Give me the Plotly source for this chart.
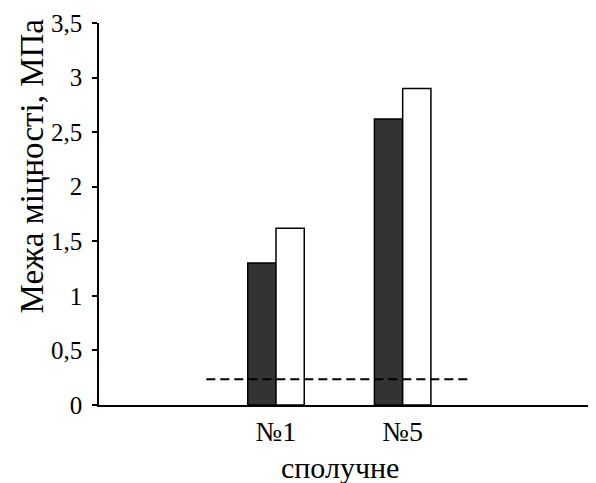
import plotly.graph_objects as go

categories = ["№1", "№5"]
cat_pos = [1, 2]
series_dark = [1.30, 2.62]
series_white = [1.62, 2.90]
limit_x = [0.45, 2.52]
limit_y = [0.235, 0.235]
y_ticks = [0, 0.5, 1, 1.5, 2, 2.5, 3, 3.5]
y_ticklabels = ["0", "0,5", "1", "1,5", "2", "2,5", "3", "3,5"]
x_title = "сполучне"
y_title = "Межа міцності, МПа"

FONT = "Liberation Serif, DejaVu Serif"
bw = 0.223

fig = go.Figure()
fig.add_trace(go.Bar(x=cat_pos, y=series_dark, width=bw, offset=-bw,
                     marker=dict(color="#333333", line=dict(color="black", width=1.5)),
                     showlegend=False))
fig.add_trace(go.Bar(x=cat_pos, y=series_white, width=bw, offset=0,
                     marker=dict(color="white", line=dict(color="black", width=1.5)),
                     showlegend=False))
fig.add_trace(go.Scatter(x=limit_x, y=limit_y, mode="lines",
                         line=dict(color="black", width=2, dash="9px,5px"),
                         showlegend=False))

# page body has an 8px margin: compensate (plot area: page x 99..596, y 23..405)
W, H = 588, 475
L, T, B = 91, 15, 78
PW, PH = W - L, H - T - B

def px_to_paper_x(page_x):
    return (page_x - 8 - L) / PW

def px_to_paper_y(page_y):
    return (H - B - (page_y - 8)) / PH

fig.update_layout(
    width=W, height=H,
    margin=dict(l=L, r=0, t=T, b=B),
    paper_bgcolor="white", plot_bgcolor="white",
    font=dict(family=FONT, color="black", size=24),
    xaxis=dict(range=[-0.397, 3.526], tickmode="array", tickvals=cat_pos,
               ticktext=categories, showline=True, linecolor="black", linewidth=2,
               ticks="", showgrid=False, zeroline=False, automargin=False,
               tickfont=dict(family=FONT, size=28), ticklabelstandoff=0),
    yaxis=dict(range=[0, 3.5], tickmode="array", tickvals=y_ticks,
               ticktext=y_ticklabels, showline=True, linecolor="black", linewidth=1.5,
               ticks="outside", ticklen=5, tickwidth=1.5, tickcolor="black",
               showgrid=False, zeroline=False, automargin=False,
               tickfont=dict(family=FONT, size=25), ticklabelstandoff=5),
    annotations=[
        dict(text=x_title, xref="paper", yref="paper",
             x=px_to_paper_x(340), y=px_to_paper_y(467),
             xanchor="center", yanchor="middle", showarrow=False,
             font=dict(family=FONT, size=30, color="black")),
        dict(text=y_title, xref="paper", yref="paper", textangle=-90,
             x=px_to_paper_x(31.5), y=px_to_paper_y(166),
             xanchor="center", yanchor="middle", showarrow=False,
             font=dict(family=FONT, size=33, color="black")),
    ],
)

fig.write_html("out.html")
